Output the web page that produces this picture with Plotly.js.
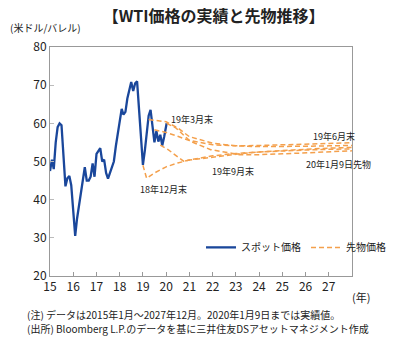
<!DOCTYPE html>
<html><head><meta charset="utf-8">
<script src="https://cdn.plot.ly/plotly-3.0.1.min.js"></script>
<style>html,body{margin:0;padding:0;background:#fff;}#chart{width:403px;height:349px;}</style>
</head><body><div id="chart"></div>
<script>
// Spot (monthly, 2015-01 .. 2019-12, plus 2020-01-09)
var spotValues = [
  47.5, 50.5, 48.0, 55.0, 59.0, 60.0, 59.5, 51.5, 43.5, 45.6, 46.2, 43.8,
  37.0, 30.5, 35.0, 38.5, 42.0, 45.5, 48.5, 45.0, 45.0, 46.0, 49.5, 46.0,
  52.0, 52.8, 53.5, 50.0, 50.5, 47.0, 45.5, 47.0, 48.5, 50.0, 54.0, 57.2,
  60.0, 63.8, 62.3, 63.0, 66.5, 69.0, 70.8, 68.5, 70.5, 71.0, 63.0, 55.5,
  49.1, 53.0, 57.5, 62.0, 63.5, 59.5, 55.0, 58.0, 55.2, 57.0, 54.2, 56.5,
  59.5, 60.0
];
var spotDates = [];
for (var yy = 2015; yy <= 2019; yy++) {
  for (var mm = 1; mm <= 12; mm++) spotDates.push(yy + '-' + (mm < 10 ? '0' : '') + mm + '-01');
}
spotDates.push('2020-01-01', '2020-01-09');

// Forward curves
var fwdDec18Dates = ['2019-01-01','2019-02-28','2019-07-01','2020-01-01','2020-07-01','2021-01-01','2022-01-01','2023-01-01','2024-01-01','2025-01-01','2026-01-01','2027-01-01','2027-12-31'];
var fwdDec18Values = [49.0, 45.6, 47.0, 48.6, 49.6, 50.4, 51.5, 52.1, 52.5, 52.8, 53.0, 53.2, 53.3];

var fwdMar19Dates = ['2019-04-01','2019-07-01','2020-01-01','2020-07-01','2021-01-01','2022-01-01','2023-01-01','2024-01-01','2025-01-01','2026-01-01','2027-01-01','2027-12-31'];
var fwdMar19Values = [61.0, 60.8, 60.4, 58.8, 56.5, 54.8, 54.1, 53.9, 53.9, 54.0, 54.1, 54.2];

var fwdJun19Dates = ['2019-07-01','2020-01-01','2020-07-01','2021-01-01','2022-01-01','2023-01-01','2024-01-01','2025-01-01','2026-01-01','2027-01-01','2027-12-31'];
var fwdJun19Values = [58.3, 57.6, 56.6, 55.5, 54.4, 54.1, 54.2, 54.4, 54.6, 54.8, 54.9];

var fwdSep19Dates = ['2019-10-01','2020-02-01','2020-10-01','2021-01-01','2022-01-01','2023-01-01','2024-01-01','2025-01-01','2026-01-01','2027-01-01','2027-12-31'];
var fwdSep19Values = [54.3, 53.1, 50.1, 50.4, 51.1, 51.9, 52.5, 52.9, 53.2, 53.5, 53.7];

var fwdJan20Dates = ['2020-01-09','2020-06-01','2021-01-15','2021-12-01','2023-03-01','2024-01-01','2025-01-01','2026-01-01','2027-01-01','2027-12-31'];
var fwdJan20Values = [60.0, 58.8, 55.3, 53.1, 51.8, 51.8, 52.0, 52.3, 52.6, 52.8];

var yearTickVals = ['2015-01-01','2016-01-01','2017-01-01','2018-01-01','2019-01-01','2020-01-01','2021-01-01','2022-01-01','2023-01-01','2024-01-01','2025-01-01','2026-01-01','2027-01-01'];
var yearTickText = ['15','16','17','18','19','20','21','22','23','24','25','26','27'];

var FONT = '"Noto Sans CJK JP", "Noto Sans", sans-serif';
var SPOT_COLOR = '#1a479b';
var FWD_COLOR = '#f4a04c';

function fwdTrace(x, y, show) {
  return {x: x, y: y, type: 'scatter', mode: 'lines', name: '先物価格',
    legendgroup: 'fwd', showlegend: show,
    line: {color: FWD_COLOR, width: 1.5, dash: '5px,3px'}};
}

var traces = [
  {x: spotDates, y: spotValues, type: 'scatter', mode: 'lines', name: 'スポット価格',
   line: {color: SPOT_COLOR, width: 2.3}},
  fwdTrace(fwdDec18Dates, fwdDec18Values, true),
  fwdTrace(fwdMar19Dates, fwdMar19Values, false),
  fwdTrace(fwdJun19Dates, fwdJun19Values, false),
  fwdTrace(fwdSep19Dates, fwdSep19Values, false),
  fwdTrace(fwdJan20Dates, fwdJan20Values, false)
];

var labelFont = {family: FONT, size: 9, color: '#222'};
function lab(x, y, t) {
  return {x: x, y: y, xref: 'x', yref: 'y', text: t, showarrow: false, xanchor: 'left', yanchor: 'middle', font: labelFont};
}

var layout = {
  width: 403, height: 349,
  margin: {l: 50, r: 28, t: 47, b: 73},
  paper_bgcolor: '#fff', plot_bgcolor: '#fff',
  font: {family: FONT, color: '#222'},
  title: {text: '<b>【WTI価格の実績と先物推移】</b>', x: 0.53, xanchor: 'center', y: 0.954, yanchor: 'middle', yref: 'container',
          font: {family: FONT, size: 16, color: '#222'}},
  xaxis: {type: 'date', range: ['2015-01-01', '2028-01-01'], tickvals: yearTickVals, ticktext: yearTickText,
          ticks: 'inside', ticklen: 4, tickcolor: '#999', showgrid: false, zeroline: false,
          showline: true, linecolor: '#999', linewidth: 1, mirror: true,
          tickfont: {family: FONT, size: 12, color: '#222'}},
  yaxis: {range: [20, 80], dtick: 10, ticks: 'inside', ticklen: 4, tickcolor: '#bbb', showgrid: false, zeroline: false,
          showline: true, linecolor: '#999', linewidth: 1, mirror: true,
          tickfont: {family: FONT, size: 12, color: '#222'}},
  showlegend: true,
  legend: {orientation: 'h', x: 0.5, xanchor: 'left', y: 0.125, yanchor: 'middle', bgcolor: 'rgba(0,0,0,0)',
           font: {family: FONT, size: 10, color: '#222'}, itemwidth: 30, tracegroupgap: 0},
  annotations: [
    lab('2020-02-10', 60.9, '19年3月末'),
    lab('2018-10-15', 42.7, '18年12月末'),
    lab('2021-11-15', 47.5, '19年9月末'),
    lab('2026-04-01', 56.5, '19年6月末'),
    lab('2025-12-01', 49.3, '20年1月9日先物'),
    {xref: 'paper', yref: 'paper', x: -0.14, y: 1.083, xanchor: 'left', yanchor: 'middle', showarrow: false,
     text: '(米ドル/バレル)', font: {family: FONT, size: 10, color: '#222'}},
    {xref: 'paper', yref: 'paper', x: 1.031, y: -0.092, xanchor: 'center', yanchor: 'middle', showarrow: false,
     text: '(年)', font: {family: FONT, size: 11, color: '#222'}},
    {xref: 'paper', yref: 'paper', x: -0.083, y: -0.166, xanchor: 'left', yanchor: 'middle', showarrow: false,
     text: '(注) データは2015年1月～2027年12月。2020年1月9日までは実績値。', font: {family: FONT, size: 10, color: '#222'}},
    {xref: 'paper', yref: 'paper', x: -0.083, y: -0.231, xanchor: 'left', yanchor: 'middle', showarrow: false,
     text: '(出所) Bloomberg L.P.のデータを基に三井住友DSアセットマネジメント作成', font: {family: FONT, size: 10, color: '#222'}}
  ]
};

Plotly.newPlot('chart', traces, layout, {displayModeBar: false, staticPlot: true});
</script>
</body></html>
